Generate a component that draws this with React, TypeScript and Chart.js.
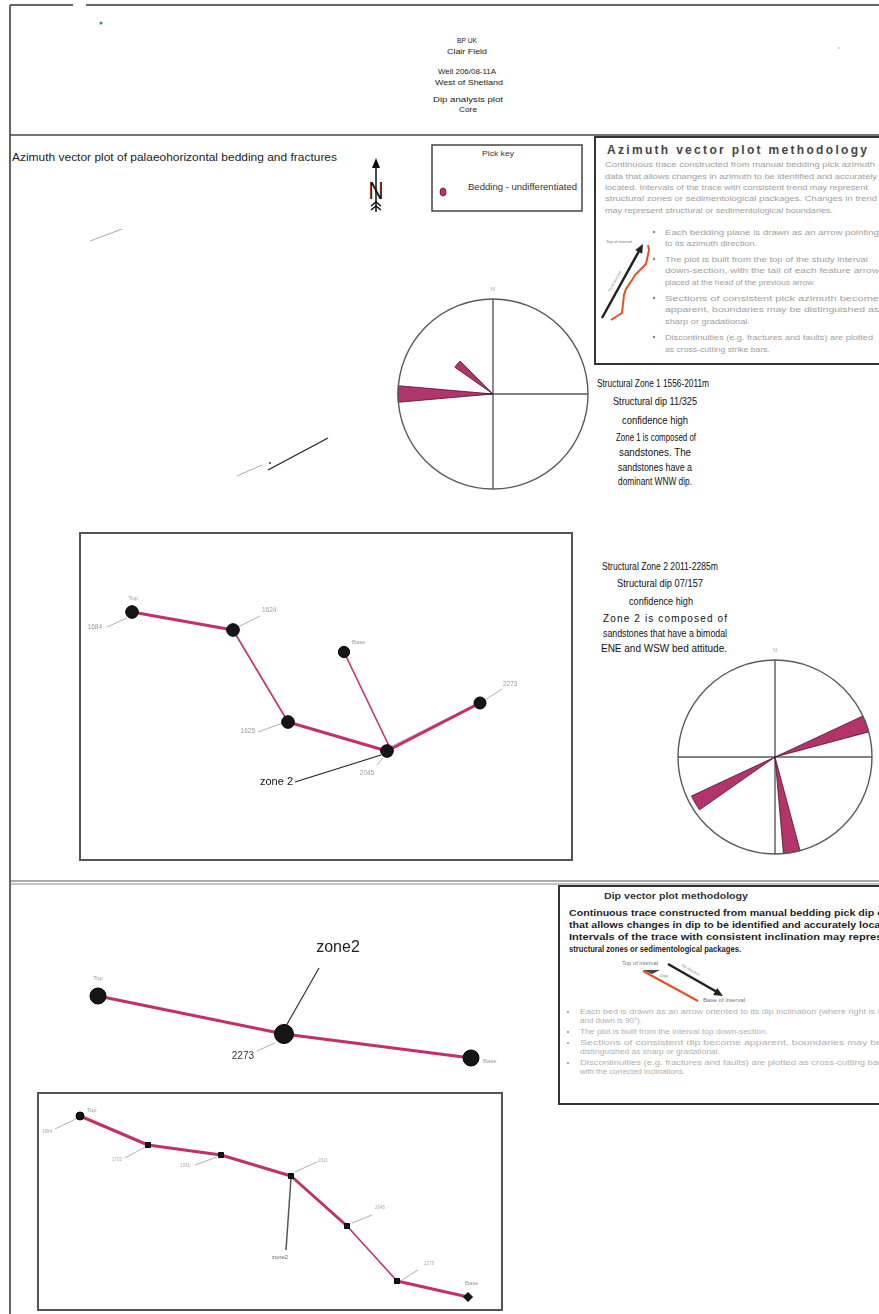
import { useEffect, useRef } from "react";
import { Chart, registerables } from "chart.js";

Chart.register(...registerables);

const FONT = '"Liberation Sans", Arial, Helvetica, sans-serif';
const TRACE = "#c2306c";
const TRACE_LIGHT = "#e4a7bd";
const PETAL = "#b3336b";
const MARKER = "#161616";

// ---- Zone 2 azimuth vector trace (plot units: east, north) ----
const azTraceX = [50, 151, 206, 305, 398];
const azTraceY = [246, 228, 136, 107, 155];
const azTraceDepths = ["1684", "1624", "1625", "2045", "2273"];
const azBranchX = [398, 308, 262];
const azBranchY = [155, 110, 206];
const azEndNames = ["Top", "Base"];
const azZone = "zone 2";

// ---- Dip vector summary (plot units: along section, down) ----
const dipAX = [58, 244, 431];
const dipAY = [96, 134, 158];
const dipADepths = ["", "2273", ""];
const dipAEndNames = ["Top", "Base"];
const dipAZone = "zone2";

// ---- Dip vector detail ----
const dipBX = [40, 108, 181, 251, 307, 357, 428];
const dipBY = [21, 50, 60, 81, 131, 186, 202];
const dipBDepths = ["1684", "1702", "1931", "2011", "2045", "2273", ""];
const dipBEndNames = ["Top", "Base"];
const dipBZone = "zone2";

// ---- Rose diagrams: 10 degree azimuth bins ----
const roseBins = [
  "0", "10", "20", "30", "40", "50", "60", "70", "80", "90", "100", "110",
  "120", "130", "140", "150", "160", "170", "180", "190", "200", "210", "220", "230",
  "240", "250", "260", "270", "280", "290", "300", "310", "320", "330", "340", "350",
];
const rose1Counts = [
  0, 0, 0, 0, 0, 0, 0, 0, 0, 0, 0, 0,
  0, 0, 0, 0, 0, 0, 0, 0, 0, 0, 0, 0,
  0, 0, 0, 10, 0, 0, 0, 4.9, 0, 0, 0, 0,
];
const rose2Counts = [
  0, 0, 0, 0, 0, 0, 0, 10, 0, 0, 0, 0,
  0, 0, 0, 0, 0, 10, 0, 0, 0, 0, 0, 0,
  9.5, 0, 0, 0, 0, 0, 0, 0, 0, 0, 0, 0,
];

type Callout = {
  ds?: number;
  i: number;
  text: string;
  dx: number;
  dy: number;
  align?: CanvasTextAlign;
  size: number;
  color: string;
  lead?: number[];
  leadColor?: string;
  leadWidth?: number;
};

function calloutPlugin(items: Callout[]) {
  return {
    id: "callouts",
    beforeDatasetsDraw(chart: any) {
      const ctx = chart.ctx;
      ctx.save();
      for (const c of items) {
        if (!c.lead) continue;
        const p = chart.getDatasetMeta(c.ds ?? 0).data[c.i];
        ctx.beginPath();
        ctx.moveTo(p.x + c.lead[0], p.y + c.lead[1]);
        ctx.lineTo(p.x + c.lead[2], p.y + c.lead[3]);
        ctx.strokeStyle = c.leadColor ?? "#b0b0b0";
        ctx.lineWidth = c.leadWidth ?? 1;
        ctx.stroke();
      }
      ctx.restore();
    },
    afterDatasetsDraw(chart: any) {
      const ctx = chart.ctx;
      ctx.save();
      ctx.textBaseline = "middle";
      for (const c of items) {
        if (!c.text) continue;
        const p = chart.getDatasetMeta(c.ds ?? 0).data[c.i];
        ctx.font = `${c.size}px ${FONT}`;
        ctx.fillStyle = c.color;
        ctx.textAlign = c.align ?? "left";
        ctx.fillText(c.text, p.x + c.dx, p.y + c.dy);
      }
      ctx.restore();
    },
  };
}

// Outer circle, N-S / E-W cross and north tick for the rose plots
const roseFrame = {
  id: "roseFrame",
  beforeDatasetsDraw(chart: any) {
    const s = chart.scales.r;
    const ctx = chart.ctx;
    const cx = s.xCenter;
    const cy = s.yCenter;
    const r = s.drawingArea;
    ctx.save();
    ctx.strokeStyle = "#5a5a5a";
    ctx.lineWidth = 1.4;
    ctx.beginPath();
    ctx.moveTo(cx - r, cy);
    ctx.lineTo(cx + r, cy);
    ctx.moveTo(cx, cy - r);
    ctx.lineTo(cx, cy + r);
    ctx.stroke();
    ctx.restore();
  },
  afterDatasetsDraw(chart: any) {
    const s = chart.scales.r;
    const ctx = chart.ctx;
    const cx = s.xCenter;
    const cy = s.yCenter;
    const r = s.drawingArea;
    ctx.save();
    ctx.strokeStyle = "#5a5a5a";
    ctx.lineWidth = 1.4;
    ctx.beginPath();
    ctx.arc(cx, cy, r, 0, Math.PI * 2);
    ctx.stroke();
    ctx.font = `5px ${FONT}`;
    ctx.fillStyle = "#999";
    ctx.textAlign = "center";
    ctx.textBaseline = "middle";
    ctx.fillText("N", cx, cy - r - 9);
    ctx.restore();
  },
};

function trace(
  xs: number[],
  ys: number[],
  widths: number[],
  radii: number[],
  extra: any = {},
  colors?: string[]
) {
  return {
    data: xs.map((x, i) => ({ x, y: ys[i] })),
    showLine: true,
    borderColor: TRACE,
    borderWidth: 3,
    borderCapStyle: "round",
    borderJoinStyle: "round",
    segment: {
      borderWidth: (c: any) => widths[c.p0DataIndex],
      borderColor: (c: any) => (colors ? colors[c.p0DataIndex] : TRACE),
    },
    pointRadius: radii,
    pointBackgroundColor: MARKER,
    pointBorderColor: "#000",
    pointBorderWidth: 1,
    clip: false,
    ...extra,
  };
}

function vectorChart(
  canvas: HTMLCanvasElement,
  datasets: any[],
  xMax: number,
  yMax: number,
  reverseY: boolean,
  callouts: Callout[]
) {
  return new Chart(canvas, {
    type: "scatter",
    data: { datasets },
    options: {
      animation: false,
      responsive: false,
      events: [],
      layout: { padding: 0, autoPadding: false },
      plugins: { legend: { display: false }, tooltip: { enabled: false } },
      scales: {
        x: { type: "linear", min: 0, max: xMax, display: false },
        y: { type: "linear", min: 0, max: yMax, reverse: reverseY, display: false },
      },
    } as any,
    plugins: [calloutPlugin(callouts)],
  });
}

function roseChart(canvas: HTMLCanvasElement, counts: number[], pad: number) {
  return new Chart(canvas, {
    type: "polarArea",
    data: {
      labels: roseBins,
      datasets: [
        {
          data: counts,
          backgroundColor: PETAL,
          borderColor: "#4d1029",
          borderWidth: 0.8,
        },
      ],
    },
    options: {
      animation: false,
      responsive: false,
      events: [],
      layout: { padding: pad, autoPadding: false },
      plugins: { legend: { display: false }, tooltip: { enabled: false } },
      scales: {
        r: {
          min: 0,
          max: 10,
          startAngle: -5,
          ticks: { display: false },
          grid: { display: false },
          angleLines: { display: false },
          pointLabels: { display: false },
        },
      },
    } as any,
    plugins: [roseFrame],
  });
}

type TL = [string, number, number, number?];

function TextBlock(props: {
  lines: TL[];
  size: number;
  fill: string;
  anchor?: string;
  weight?: number;
  adjust?: string;
}) {
  const { lines, size, fill, anchor = "start", weight = 400, adjust = "spacingAndGlyphs" } = props;
  return (
    <g fontSize={size} fill={fill} textAnchor={anchor} fontWeight={weight} fontFamily={FONT}>
      {lines.map(([t, x, y, len], i) => (
        <text
          key={i}
          x={x}
          y={y + size * 0.35}
          textLength={len}
          lengthAdjust={len ? adjust : undefined}
        >
          {t}
        </text>
      ))}
    </g>
  );
}

const headerLines: TL[] = [
  ["BP UK", 467, 40, 20],
  ["Clair Field", 467, 51, 40],
  ["Well 206/08-11A", 467, 71, 58],
  ["West of Shetland", 469, 82, 68],
  ["Dip analysis plot", 468, 99, 70],
  ["Core", 468, 109, 18],
];

const methodParagraph: TL[] = [
  ["Continuous trace constructed from manual bedding pick azimuth", 605, 164, 270],
  ["data that allows changes in azimuth to be identified and accurately", 605, 176, 272],
  ["located. Intervals of the trace with consistent trend may represent", 605, 187, 263],
  ["structural zones or sedimentological packages. Changes in trend", 605, 198, 272],
  ["may represent structural or sedimentological boundaries.", 605, 210, 228],
];

const methodBullets: TL[] = [
  ["Each bedding plane is drawn as an arrow pointing", 665, 232, 214],
  ["to its azimuth direction.", 665, 243, 92],
  ["The plot is built from the top of the study interval", 665, 259, 203],
  ["down-section, with the tail of each feature arrow", 665, 270, 214],
  ["placed at the head of the previous arrow.", 665, 282, 150],
  ["Sections of consistent pick azimuth become", 665, 298, 214],
  ["apparent, boundaries may be distinguished as", 665, 309, 214],
  ["sharp or gradational.", 665, 321, 85],
  ["Discontinuities (e.g. fractures and faults) are plotted", 665, 337, 208],
  ["as cross-cutting strike bars.", 665, 349, 105],
];

const zone1Head: TL[] = [
  ["Structural Zone 1 1556-2011m", 653, 383, 112],
  ["Structural dip 11/325", 655, 401, 84],
  ["confidence high", 655, 420, 66],
];
const zone1Body: TL[] = [
  ["Zone 1 is composed of", 656, 437, 80],
  ["sandstones. The", 655, 452, 72],
  ["sandstones have a", 655, 467, 74],
  ["dominant WNW dip.", 655, 481, 74],
];
const zone2Head: TL[] = [
  ["Structural Zone 2 2011-2285m", 660, 566, 116],
  ["Structural dip 07/157", 660, 583, 86],
  ["confidence high", 661, 601, 64],
];
const zone2Lead: TL[] = [["Zone 2 is composed of", 665, 618, 124]];
const zone2Body: TL[] = [
  ["sandstones that have a bimodal", 665, 633, 124],
  ["ENE and WSW bed attitude.", 664, 648, 126],
];

const dipParagraph: TL[] = [
  ["Continuous trace constructed from manual bedding pick dip data", 569, 913, 330],
  ["that allows changes in dip to be identified and accurately located.", 569, 925, 330],
  ["Intervals of the trace with consistent inclination may represent", 569, 937, 330],
  ["structural zones or sedimentological packages.", 569, 949, 172],
];

const dipBullets: TL[] = [
  ["Each bed is drawn as an arrow oriented to its dip inclination (where right is 0°", 580, 1012, 306],
  ["and down is 90°).", 580, 1021, 62],
  ["The plot is built from the interval top down-section.", 580, 1032, 188],
  ["Sections of consistent dip become apparent, boundaries may be", 580, 1043, 302],
  ["distinguished as sharp or gradational.", 580, 1052, 140],
  ["Discontinuities (e.g. fractures and faults) are plotted as cross-cutting bars", 580, 1063, 306],
  ["with the corrected inclinations.", 580, 1072, 105],
];

export default function App() {
  const azRef = useRef<HTMLCanvasElement>(null);
  const dipARef = useRef<HTMLCanvasElement>(null);
  const dipBRef = useRef<HTMLCanvasElement>(null);
  const rose1Ref = useRef<HTMLCanvasElement>(null);
  const rose2Ref = useRef<HTMLCanvasElement>(null);

  useEffect(() => {
    const grey = "#9a9a9a";
    const charts: Chart[] = [];

    charts.push(
      vectorChart(
        azRef.current!,
        [
          trace(azTraceX, azTraceY, [3, 1.6, 3, 3], [6.3, 6.3, 6.3, 6.3, 6]),
          trace(azBranchX, azBranchY, [3, 1.6], [0, 0, 5.6], {}, [TRACE_LIGHT, TRACE]),
        ],
        488,
        323,
        false,
        [
          { ds: 0, i: 0, text: azEndNames[0], dx: 1, dy: -14, align: "center", size: 6, color: grey },
          { ds: 0, i: 0, text: azTraceDepths[0], dx: -30, dy: 15, align: "right", size: 6.5, color: grey, lead: [-5, 6, -25, 15] },
          { ds: 0, i: 1, text: azTraceDepths[1], dx: 29, dy: -20, align: "left", size: 6.5, color: grey, lead: [5, -3, 27, -14] },
          { ds: 0, i: 2, text: azTraceDepths[2], dx: -33, dy: 9, align: "right", size: 6.5, color: grey, lead: [-5, 1, -30, 10] },
          { ds: 0, i: 3, text: azTraceDepths[3], dx: -20, dy: 22, align: "center", size: 6.5, color: grey, lead: [-4, 7, -10, 14] },
          { ds: 0, i: 4, text: azTraceDepths[4], dx: 23, dy: -19, align: "left", size: 6.5, color: grey, lead: [5, -3, 22, -14] },
          { ds: 1, i: 2, text: azEndNames[1], dx: 8, dy: -10, align: "left", size: 6, color: grey },
          { ds: 0, i: 3, text: azZone, dx: -94, dy: 31, align: "right", size: 11, color: "#111", lead: [-6, 4, -92, 31], leadColor: "#222", leadWidth: 1.3 },
        ]
      )
    );

    charts.push(
      vectorChart(
        dipARef.current!,
        [trace(dipAX, dipAY, [3, 3], [8, 9.5, 8])],
        520,
        180,
        true,
        [
          { i: 0, text: dipAEndNames[0], dx: 0, dy: -18, align: "center", size: 6, color: grey },
          { i: 1, text: dipADepths[1], dx: -30, dy: 22, align: "right", size: 10, color: "#333", lead: [-9, 9, -27, 17] },
          { i: 2, text: dipAEndNames[1], dx: 12, dy: 3, align: "left", size: 6, color: grey },
          { i: 1, text: dipAZone, dx: 54, dy: -86, align: "center", size: 16, color: "#222", lead: [2, -8, 35, -66], leadColor: "#333", leadWidth: 1.2 },
        ]
      )
    );

    charts.push(
      vectorChart(
        dipBRef.current!,
        [
          trace(dipBX, dipBY, [3, 3, 3, 3, 1.6, 3], [4, 3.5, 3.5, 3.5, 3.5, 3.5, 4.5], {
            pointStyle: ["circle", "rect", "rect", "rect", "rect", "rect", "rectRot"],
          }),
        ],
        460,
        213,
        true,
        [
          { i: 0, text: dipBEndNames[0], dx: 7, dy: -6, align: "left", size: 6, color: grey },
          { i: 0, text: dipBDepths[0], dx: -28, dy: 16, align: "right", size: 4.5, color: "#aaa", lead: [-2, 2, -25, 13] },
          { i: 1, text: dipBDepths[1], dx: -26, dy: 15, align: "right", size: 4.5, color: "#aaa", lead: [-3, 2, -23, 13] },
          { i: 2, text: dipBDepths[2], dx: -31, dy: 11, align: "right", size: 4.5, color: "#aaa", lead: [-4, 2, -26, 10] },
          { i: 3, text: dipBDepths[3], dx: 27, dy: -15, align: "left", size: 4.5, color: "#aaa", lead: [4, -4, 26, -14] },
          { i: 4, text: dipBDepths[4], dx: 28, dy: -18, align: "left", size: 4.5, color: "#aaa", lead: [5, -3, 25, -11] },
          { i: 5, text: dipBDepths[5], dx: 27, dy: -17, align: "left", size: 4.5, color: "#aaa", lead: [5, -1, 21, -11] },
          { i: 6, text: dipBEndNames[1], dx: -3, dy: -14, align: "left", size: 6, color: grey },
          { i: 3, text: dipBZone, dx: -11, dy: 81, align: "center", size: 6, color: "#666", lead: [0, 2, -5, 74], leadColor: "#555", leadWidth: 1.5 },
        ]
      )
    );

    charts.push(roseChart(rose1Ref.current!, rose1Counts, 15));
    charts.push(roseChart(rose2Ref.current!, rose2Counts, 13));

    return () => charts.forEach((c) => c.destroy());
  }, []);

  const abs = (left: number, top: number): any => ({ position: "absolute", left, top });

  return (
    <div
      style={{
        position: "absolute",
        left: 0,
        top: 0,
        width: 879,
        height: 1314,
        overflow: "hidden",
        background: "#fff",
      }}
    >
      <svg width={879} height={1314} style={{ position: "absolute", left: 0, top: 0 }}>
        {/* page frame and section rules */}
        <g stroke="#666" strokeWidth={2} fill="none">
          <line x1={10} y1={5} x2={73} y2={5} />
          <line x1={86} y1={5} x2={879} y2={5} />
          <line x1={10} y1={5} x2={10} y2={1314} />
        </g>
        <line x1={10} y1={135} x2={879} y2={135} stroke="#444" strokeWidth={1.5} />
        <line x1={10} y1={881} x2={879} y2={881} stroke="#555" strokeWidth={1.2} />
        <line x1={10} y1={884} x2={879} y2={884} stroke="#888" strokeWidth={1.2} />

        {/* boxes */}
        <rect x={432} y={145} width={150} height={66} fill="none" stroke="#444" strokeWidth={1.5} />
        <path d="M 895 137 L 595 137 L 595 364 L 895 364" fill="none" stroke="#333" strokeWidth={2} />
        <rect x={80} y={533} width={492} height={327} fill="none" stroke="#555" strokeWidth={2} />
        <path d="M 895 886 L 559 886 L 559 1104 L 895 1104" fill="none" stroke="#333" strokeWidth={2} />
        <rect x={38} y={1093} width={464} height={217} fill="none" stroke="#555" strokeWidth={2} />

        {/* specks */}
        <circle cx={101} cy={23} r={1.6} fill="#3aa33a" />
        <circle cx={839} cy={48} r={0.8} fill="#7ab87a" />

        {/* zone 1 trace remnants */}
        <line x1={90} y1={241} x2={122} y2={229} stroke="#aaa" strokeWidth={1} />
        <line x1={237} y1={476} x2={262} y2={465} stroke="#aaa" strokeWidth={1} />
        <line x1={268} y1={470} x2={328} y2={438} stroke="#222" strokeWidth={1.3} />
        <circle cx={270} cy={463} r={0.9} fill="#222" />

        {/* north arrow */}
        <g stroke="#111" fill="none" strokeWidth={1.5}>
          <line x1={376} y1={163} x2={376} y2={212} />
          <polyline points="371,206 376,202 381,206" />
          <polyline points="371,210 376,206 381,210" />
        </g>
        <polygon points="376,158 372,168 380,168" fill="#111" />
        <text x={376} y={199} fontSize={24} fontFamily={FONT} textAnchor="middle" fill="#111" textLength={15} lengthAdjust="spacingAndGlyphs">
          N
        </text>

        {/* pick key */}
        <ellipse cx={443} cy={192} rx={3} ry={4} fill="#c03070" stroke="#5a1030" strokeWidth={0.8} />
        <TextBlock lines={[["Pick key", 498, 153, 32]]} size={8} fill="#333" anchor="middle" />
        <TextBlock lines={[["Bedding - undifferentiated", 468, 187, 109]]} size={8.5} fill="#333" />

        {/* header */}
        <TextBlock lines={headerLines} size={8} fill="#222" anchor="middle" />

        {/* section title */}
        <TextBlock lines={[["Azimuth vector plot of palaeohorizontal bedding and fractures", 12, 157, 325]]} size={10.5} fill="#222" />

        {/* azimuth methodology */}
        <TextBlock lines={[["Azimuth vector plot methodology", 607, 150, 260]]} size={12} fill="#444" weight={700} adjust="spacing" />
        <TextBlock lines={methodParagraph} size={7.5} fill="#a0a0a0" />
        <TextBlock lines={methodBullets} size={7.5} fill="#a0a0a0" />
        <g fill="#888">
          <circle cx={654} cy={232} r={1.2} />
          <circle cx={654} cy={259} r={1.2} />
          <circle cx={654} cy={298} r={1.2} />
          <circle cx={654} cy={337} r={1.2} />
        </g>
        <line x1={602} y1={318} x2={639} y2={251} stroke="#222" strokeWidth={2.5} />
        <polygon points="643,244 642.2,253.8 635.2,250" fill="#222" />
        <polyline
          points="648,245 649,250 646,264 635,275 632,280 626,289 624,295 622,313 611,320"
          fill="none"
          stroke="#e8501e"
          strokeWidth={2}
        />
        <TextBlock lines={[["Top of interval", 606, 242, 26]]} size={4} fill="#777" />
        <g transform="translate(616,282) rotate(-61)">
          <text x={0} y={0} fontSize={4} fontFamily={FONT} fill="#888" textAnchor="middle" textLength={24} lengthAdjust="spacingAndGlyphs">
            Trend direction
          </text>
        </g>

        {/* zone descriptions */}
        <TextBlock lines={zone1Head} size={11} fill="#111" anchor="middle" />
        <TextBlock lines={zone1Body} size={10} fill="#111" anchor="middle" />
        <TextBlock lines={zone2Head} size={11} fill="#111" anchor="middle" />
        <TextBlock lines={zone2Lead} size={10} fill="#111" anchor="middle" adjust="spacing" />
        <TextBlock lines={zone2Body} size={10} fill="#111" anchor="middle" />

        {/* dip methodology */}
        <TextBlock lines={[["Dip vector plot methodology", 604, 896, 144]]} size={9} fill="#333" weight={600} />
        <TextBlock lines={dipParagraph} size={8.5} fill="#1e1e1e" weight={700} />
        <line x1={668} y1={964} x2={717} y2={992} stroke="#222" strokeWidth={2.5} />
        <polygon points="723,996 713.2,995 717.2,988" fill="#222" />
        <line x1={643} y1={971} x2={698} y2={1001} stroke="#e8501e" strokeWidth={2} />
        <polygon points="643,970 660,970 652,974" fill="#444" />
        <TextBlock lines={[["Top of interval", 622, 963, 36]]} size={4.5} fill="#777" />
        <TextBlock lines={[["Base of interval", 703, 1000, 42]]} size={4.5} fill="#777" />
        <TextBlock lines={[["Dip", 660, 976, 8]]} size={4} fill="#888" />
        <g transform="translate(690,971) rotate(30)">
          <text x={0} y={0} fontSize={4} fontFamily={FONT} fill="#888" textAnchor="middle" textLength={20} lengthAdjust="spacingAndGlyphs">
            Dip direction
          </text>
        </g>
        <TextBlock lines={dipBullets} size={7} fill="#b0b0b0" />
        <g fill="#999">
          <circle cx={568} cy={1012} r={1.1} />
          <circle cx={568} cy={1032} r={1.1} />
          <circle cx={568} cy={1043} r={1.1} />
          <circle cx={568} cy={1063} r={1.1} />
        </g>
      </svg>

      <canvas ref={azRef} width={488} height={323} style={abs(82, 535)} />
      <canvas ref={dipARef} width={520} height={180} style={abs(40, 900)} />
      <canvas ref={dipBRef} width={460} height={213} style={abs(40, 1095)} />
      <canvas ref={rose1Ref} width={220} height={220} style={abs(383, 284)} />
      <canvas ref={rose2Ref} width={220} height={220} style={abs(665, 647)} />
    </div>
  );
}
